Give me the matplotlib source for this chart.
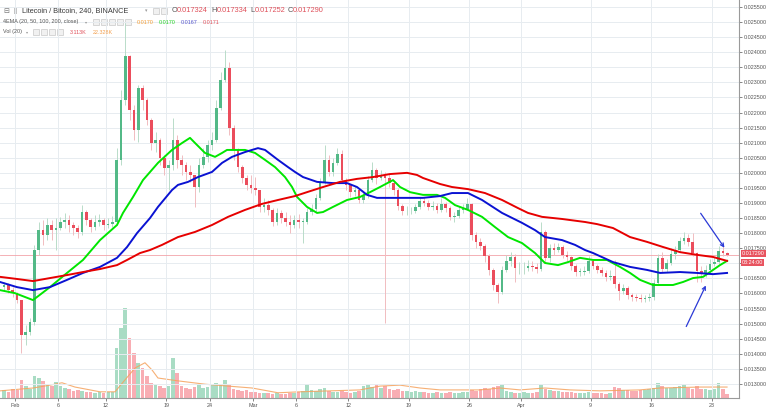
import matplotlib.pyplot as plt
import matplotlib.transforms as mtransforms
from matplotlib.patches import Rectangle
import numpy as np

W, H = 768, 409

# LTC/BTC candles, aggregated to 12h, day 0 = Feb 1 2018. Prices in mBTC.
first_day = -0.74
step = 0.5
first_open = 16.21

close_mbtc = [
    16.28, 16.11, 16.01, 15.78, 14.62, 14.72, 15.05, 17.44, 18.10, 17.94,
    18.27, 18.10, 18.17, 18.37, 18.44, 18.27, 18.17, 18.04, 18.70, 18.44,
    18.20, 18.37, 18.44, 18.27, 18.30, 18.37, 20.43, 22.42, 23.88, 22.08,
    21.42, 22.81, 22.42, 21.75, 20.99, 21.09, 20.49, 20.16, 20.26, 21.09,
    20.43, 20.26, 20.03, 19.93, 19.53, 20.26, 20.53, 20.92, 21.09, 22.15,
    23.08, 23.48, 21.49, 20.76, 20.19, 19.83, 19.60, 19.50, 19.43, 18.87,
    18.93, 18.77, 18.37, 18.67, 18.50, 18.37, 18.27, 18.44, 18.37, 18.37,
    18.70, 18.80, 19.17, 19.70, 20.43, 20.03, 20.33, 20.63, 19.76, 19.60,
    19.36, 19.43, 19.10, 19.23, 19.76, 20.09, 19.83, 19.90, 19.83, 19.66,
    19.43, 18.90, 18.73, 18.73, 18.73, 18.87, 19.07, 19.00, 18.87, 18.90,
    18.77, 18.97, 18.83, 18.54, 18.57, 18.77, 18.80, 18.97, 17.94, 17.71,
    17.57, 17.24, 16.78, 16.28, 16.05, 16.78, 17.08, 17.21, 16.84, 16.84,
    16.84, 16.91, 16.88, 16.81, 18.04, 17.18, 17.51, 17.44, 17.54, 17.28,
    17.21, 16.91, 16.71, 16.71, 16.74, 17.08, 16.91, 16.78, 16.68, 16.55,
    16.58, 16.31, 16.08, 16.18, 15.95, 15.88, 15.85, 15.82, 15.85, 15.88,
    16.35, 17.18, 16.81, 17.01, 17.31, 17.44, 17.74, 17.84, 17.71, 17.34,
    16.74, 16.64, 16.78, 16.98, 17.04, 17.41, 17.34, 17.29,
]
high_mbtc = [
    16.38, 16.35, 16.21, 16.05, 15.78, 14.95, 15.19, 17.61, 18.37, 18.44,
    18.50, 18.44, 18.50, 18.54, 18.67, 18.60, 18.37, 18.27, 18.93, 18.77,
    18.50, 18.60, 18.64, 18.50, 18.50, 18.57, 20.82, 22.75, 24.97, 23.91,
    22.25, 22.91, 22.91, 22.48, 21.82, 21.36, 21.16, 20.59, 20.43, 21.82,
    21.26, 20.59, 20.36, 20.26, 19.93, 20.49, 20.82, 21.09, 21.36, 22.42,
    23.35, 24.08, 23.68, 21.59, 20.82, 20.26, 19.93, 19.93, 19.86, 19.43,
    19.17, 19.10, 18.83, 18.83, 18.77, 18.70, 18.60, 18.60, 18.64, 18.50,
    18.83, 18.97, 19.30, 19.83, 20.92, 20.59, 20.49, 20.82, 20.76, 19.83,
    19.63, 19.56, 19.43, 19.36, 19.90, 20.36, 20.16, 20.09, 20.03, 19.96,
    19.70, 19.50, 18.97, 18.90, 18.87, 18.97, 19.20, 19.20, 19.10, 19.07,
    19.00, 19.17, 19.03, 18.90, 18.70, 18.90, 18.97, 19.17, 19.00, 18.04,
    17.84, 17.64, 17.31, 16.84, 16.35, 16.91, 17.28, 17.37, 17.31, 17.04,
    17.04, 17.11, 17.08, 17.01, 18.37, 18.10, 17.64, 17.67, 17.67, 17.61,
    17.41, 17.24, 16.98, 16.84, 16.91, 17.24, 17.14, 16.98, 16.88, 16.78,
    16.78, 17.11, 16.38, 16.31, 16.25, 16.01, 15.98, 15.98, 15.95, 16.01,
    16.48, 17.31, 17.37, 17.14, 17.51, 17.57, 17.87, 18.04, 17.97, 18.00,
    17.37, 16.91, 16.94, 17.14, 17.21, 17.57, 17.57, 17.37,
]
low_mbtc = [
    16.11, 16.01, 15.88, 15.68, 14.02, 14.29, 14.62, 14.95, 17.28, 17.61,
    17.77, 17.77, 17.44, 18.10, 18.17, 18.04, 17.94, 17.84, 17.94, 18.27,
    18.04, 18.10, 18.24, 18.10, 18.17, 18.20, 18.27, 20.26, 22.25, 21.75,
    21.09, 21.02, 22.08, 21.59, 20.76, 20.69, 20.26, 19.93, 19.43, 20.09,
    20.16, 19.93, 19.76, 19.70, 18.87, 19.36, 20.16, 20.36, 20.76, 21.02,
    22.08, 23.01, 21.26, 20.43, 20.03, 19.66, 19.43, 19.33, 19.27, 18.70,
    18.70, 18.60, 18.24, 18.27, 18.34, 18.24, 18.00, 18.17, 18.17, 17.67,
    18.30, 18.60, 18.70, 19.10, 19.63, 19.90, 19.90, 20.26, 19.66, 19.43,
    19.20, 19.23, 19.00, 19.00, 19.17, 19.70, 19.63, 19.76, 15.02, 19.53,
    19.27, 18.77, 18.60, 18.60, 18.64, 18.67, 18.80, 18.90, 18.77, 18.77,
    18.67, 18.70, 18.70, 18.44, 18.37, 18.50, 18.67, 18.77, 17.77, 17.51,
    17.44, 17.04, 16.61, 16.11, 15.68, 15.98, 16.71, 16.91, 16.38, 16.64,
    16.64, 16.74, 16.74, 16.68, 16.74, 17.04, 17.04, 17.28, 17.37, 17.18,
    17.08, 16.78, 16.58, 16.58, 16.61, 16.68, 16.81, 16.68, 16.58, 16.41,
    16.45, 16.18, 15.78, 15.98, 15.82, 15.75, 15.75, 15.72, 15.72, 15.75,
    15.78, 16.28, 16.71, 16.71, 16.94, 17.14, 17.37, 17.64, 17.57, 17.24,
    16.38, 16.38, 16.55, 16.81, 16.91, 16.98, 17.24, 17.24,
]
volume_k = [
    17, 13, 19, 17, 38, 25, 19, 46, 42, 36,
    27, 25, 34, 25, 21, 19, 15, 17, 15, 13,
    13, 11, 13, 11, 13, 13, 105, 147, 189, 126,
    95, 74, 63, 46, 32, 27, 25, 21, 25, 84,
    53, 25, 21, 19, 23, 27, 21, 23, 27, 32,
    29, 38, 27, 19, 17, 15, 17, 13, 13, 11,
    11, 11, 8, 11, 8, 8, 11, 11, 13, 15,
    29, 17, 15, 19, 21, 15, 13, 13, 15, 13,
    11, 13, 15, 25, 27, 23, 27, 21, 25, 19,
    17, 19, 15, 15, 13, 15, 13, 13, 11, 11,
    13, 11, 11, 13, 11, 11, 13, 13, 17, 15,
    19, 21, 19, 23, 25, 27, 15, 13, 11, 11,
    13, 11, 11, 13, 27, 19, 17, 15, 15, 13,
    13, 13, 11, 11, 11, 13, 11, 11, 11, 8,
    11, 23, 21, 17, 17, 15, 15, 17, 17, 19,
    21, 32, 25, 21, 21, 23, 25, 27, 21, 19,
    25, 19, 19, 17, 19, 32, 19, 8,
]

# volume moving average (orange), read at points
vol_ma_days = [-1.21, 2.60, 4.56, 5.95, 7.45, 10.34, 12.07, 13.22, 14.38, 15.53,
               16.34, 17.03, 19.34, 22.46, 25.12, 27.89, 30.89, 33.43, 36.90, 40.36,
               42.67, 44.98, 47.29, 49.60, 54.22, 56.53, 58.84, 61.72, 64.61, 68.07,
               72.69, 75.00, 79.62, 82.74]
vol_ma_k = [15, 21, 27, 32, 23, 13, 13, 38, 63, 74,
            59, 42, 36, 29, 25, 21, 11, 13, 15, 17,
            25, 27, 21, 17, 17, 21, 17, 21, 17, 15,
            17, 21, 23, 23]

# EMA 50 (green)
ema50_days = [-1.21, 0.52, 2.60, 4.56, 6.53, 8.37, 10.34, 12.30, 12.99, 14.15,
              15.30, 17.03, 18.65, 19.81, 20.73, 21.31, 22.46, 23.62, 24.43, 25.00,
              27.08, 28.24, 29.39, 30.55, 31.70, 32.51, 33.09, 34.24, 35.40, 36.09,
              37.24, 38.86, 40.36, 41.52, 42.67, 44.17, 44.98, 46.13, 47.63, 49.25,
              50.18, 51.33, 52.83, 54.45, 55.95, 57.45, 59.07, 60.57, 61.72, 63.22,
              64.38, 65.76, 67.27, 68.88, 70.38, 71.54, 72.69, 74.19, 76.50, 77.66,
              78.81, 79.97, 81.12, 81.93, 82.74]
ema50 = [16.11, 16.01, 15.78, 16.21, 16.68, 17.11, 17.77, 18.27, 18.67, 19.20,
         19.76, 20.33, 20.76, 20.99, 21.16, 20.99, 20.66, 20.53, 20.66, 20.76,
         20.76, 20.66, 20.43, 20.19, 19.86, 19.53, 19.20, 18.87, 18.67, 18.70,
         18.87, 19.10, 19.20, 19.36, 19.53, 19.76, 19.53, 19.36, 19.27, 19.27,
         19.17, 18.93, 18.77, 18.54, 18.20, 17.87, 17.67, 17.34, 17.01, 16.94,
         17.04, 17.18, 17.11, 17.11, 16.88, 16.68, 16.45, 16.28, 16.28, 16.38,
         16.51, 16.55, 16.78, 16.94, 17.08]

# EMA 100 (blue)
ema100_days = [-1.21, 0.75, 2.60, 4.56, 6.53, 8.37, 10.34, 12.30, 13.46, 14.61,
               16.11, 17.03, 18.65, 19.34, 20.50, 21.65, 23.27, 24.43, 25.58, 27.08,
               28.58, 29.39, 30.89, 32.05, 32.85, 33.78, 35.40, 37.24, 38.86, 40.01,
               41.17, 42.32, 45.79, 47.63, 49.60, 50.98, 52.83, 54.45, 56.76, 59.07,
               60.57, 61.72, 63.69, 65.19, 66.34, 67.27, 69.57, 71.54, 73.50, 75.00,
               77.31, 79.27, 81.12, 82.74]
ema100 = [16.38, 16.21, 16.11, 16.21, 16.45, 16.68, 16.88, 17.18, 17.54, 18.00,
          18.50, 18.87, 19.43, 19.60, 19.70, 19.86, 20.03, 20.33, 20.53, 20.69,
          20.82, 20.76, 20.43, 20.19, 20.03, 19.86, 19.70, 19.66, 19.66, 19.53,
          19.27, 19.17, 19.17, 19.17, 19.23, 19.33, 19.33, 19.10, 18.67, 18.34,
          18.10, 17.87, 17.77, 17.61, 17.44, 17.34, 17.04, 16.88, 16.78, 16.68,
          16.71, 16.68, 16.64, 16.68]

# EMA 200 (red)
ema200_days = [-1.21, 0.75, 2.60, 4.56, 6.53, 8.37, 10.34, 12.30, 13.46, 14.96,
               16.11, 17.50, 19.34, 21.31, 23.27, 25.12, 27.08, 29.04, 30.89, 32.85,
               34.24, 36.09, 38.05, 40.01, 41.86, 43.82, 45.79, 46.94, 47.63, 49.60,
               50.98, 52.83, 54.79, 56.76, 58.61, 59.76, 61.38, 63.69, 66.34, 67.73,
               69.57, 71.54, 73.50, 75.35, 77.31, 79.27, 81.12, 82.74]
ema200 = [16.55, 16.48, 16.41, 16.51, 16.61, 16.71, 16.81, 16.94, 17.11, 17.34,
          17.44, 17.61, 17.87, 18.04, 18.27, 18.54, 18.77, 18.97, 19.10, 19.23,
          19.36, 19.53, 19.70, 19.80, 19.86, 19.96, 20.00, 19.93, 19.83, 19.63,
          19.53, 19.46, 19.33, 19.10, 18.83, 18.67, 18.54, 18.47, 18.37, 18.30,
          18.17, 17.87, 17.71, 17.54, 17.37, 17.28, 17.21, 17.08]

tick_days = [0.5, 5.5, 11, 18, 23, 28, 33, 39, 46, 53, 59, 67, 74, 81]
tick_labels = ['Feb', '6', '12', '19', '24', 'Mar', '6', '12', '19', '26',
               'Apr', '9', '16', '23']

last_price = 0.017290
countdown = '03:24:00'

UP, DOWN = '#53b987', '#eb4d5c'
UP_WICK, DOWN_WICK = '#b9dcc9', '#f1bcc0'
VOL_UP, VOL_DOWN = '#a9dcc4', '#f8adb3'

plt.rcParams['font.family'] = ['Liberation Sans', 'DejaVu Sans']

fig = plt.figure(figsize=(W / 100, H / 100), dpi=100)
fig.patch.set_facecolor('white')
ax = fig.add_axes([0, 11 / H, 739 / W, 398 / H])
vax = ax.twinx()
ax.set_zorder(2)
vax.set_zorder(1)
ax.patch.set_visible(False)

close = np.array(close_mbtc) / 1000
high = np.array(high_mbtc) / 1000
low = np.array(low_mbtc) / 1000
opens = np.r_[first_open / 1000, close[:-1]]
days = first_day + step * np.arange(len(close))
up = close >= opens
high = np.maximum(high, np.maximum(opens, close))
low = np.minimum(low, np.minimum(opens, close))

# volume (bottom pane, about 2.1K per pixel)
vax.bar(days, volume_k, width=0.42, color=np.where(up, VOL_UP, VOL_DOWN), linewidth=0)
vax.plot(vol_ma_days, vol_ma_k, color='#f5a25d', lw=0.8, alpha=0.85)
vax.set_ylim(0, 836)
vax.set_yticks([])
for s in vax.spines.values():
    s.set_visible(False)

# candles
ax.vlines(days, low, high, colors=np.where(up, UP_WICK, DOWN_WICK), lw=0.7, zorder=2)
body_lo = np.minimum(opens, close)
body_h = np.maximum(np.abs(close - opens), 0.00002)
ax.bar(days, body_h, bottom=body_lo, width=0.3, color=np.where(up, UP, DOWN),
       linewidth=0, zorder=3)

# EMAs
ax.plot(ema50_days, np.array(ema50) / 1000, color='#00e600', lw=1.4, zorder=4)
ax.plot(ema100_days, np.array(ema100) / 1000, color='#0a12d2', lw=1.4, zorder=4)
ax.plot(ema200_days, np.array(ema200) / 1000, color='#e60000', lw=1.4, zorder=4)

# last price line + labels
ax.axhline(last_price, color='#f2a3a9', lw=0.6, zorder=1)
tr = mtransforms.blended_transform_factory(ax.transAxes, ax.transData)
ax.text(1.004, last_price + 0.00004, f'{last_price:.6f}', transform=tr, fontsize=3.9,
        color='white', va='center', ha='left', clip_on=False,
        bbox=dict(boxstyle='square,pad=0.2', fc='#e8535f', ec='none'))
ax.text(1.004, last_price - 0.00026, countdown, transform=tr, fontsize=3.9,
        color='white', va='center', ha='left', clip_on=False,
        bbox=dict(boxstyle='square,pad=0.2', fc='#e8535f', ec='none'))

# hand-drawn arrows
ax.annotate('', xy=(82.62, 0.017441), xytext=(79.51, 0.018735),
            arrowprops=dict(arrowstyle='->', color='#2b39d6', lw=0.9, mutation_scale=6))
ax.annotate('', xy=(80.43, 0.016347), xytext=(77.89, 0.01482),
            arrowprops=dict(arrowstyle='->', color='#2b39d6', lw=0.9, mutation_scale=6))

ax.set_xlim(-1.21, 84.12)
ax.set_ylim(0.012532, 0.025733)
ax.yaxis.tick_right()
yt = np.arange(0.013, 0.02551, 0.0005)
ax.set_yticks(yt)
# the 0.017000 label sits under the price / countdown boxes
ax.set_yticklabels(['' if abs(v - 0.017) < 1e-7 else f'{v:.6f}' for v in yt])
ax.set_xticks(tick_days)
ax.set_xticklabels(tick_labels)
ax.tick_params(axis='both', labelsize=3.9, colors='#555555', length=2, width=0.5, pad=1.5)
ax.grid(True, color='#e7ecf0', lw=0.7)
ax.set_axisbelow(True)
for side in ['left', 'top']:
    ax.spines[side].set_visible(False)
for side in ['right', 'bottom']:
    ax.spines[side].set_color('#9a9a9a')
    ax.spines[side].set_linewidth(0.8)


# header legend (pixel positions)
def px(x, y):
    return x / W, 1 - y / H


def icon(x, y, w=6, h=6):
    fx, fy = px(x, y + h)
    fig.patches.append(Rectangle((fx, fy), w / W, h / H, transform=fig.transFigure,
                                 fc='#f1f1f1', ec='#c9c9c9', lw=0.5))


fig.text(*px(3, 11), '⊟', fontsize=5, color='#777777', va='center', family='DejaVu Sans')
fig.patches.append(Rectangle(px(14, 14), 3 / W, 6 / H, transform=fig.transFigure,
                             fc='#c4c4c4', ec='none'))
fig.text(*px(22, 11), 'Litecoin / Bitcoin, 240, BINANCE', fontsize=5.3, color='#3a3a3a', va='center')
fig.text(*px(145, 11), '▾', fontsize=3.5, color='#999999', va='center', family='DejaVu Sans')
icon(153, 8)
icon(161, 8)
for x, lab, xv, val in [(172, 'O', 177, '0.017324'), (211, 'H', 217, '0.017334'),
                        (250, 'L', 255, '0.017252'), (288, 'C', 293, '0.017290')]:
    fig.text(*px(x, 11), lab, fontsize=5.3, color='#555555', va='center')
    fig.text(*px(xv, 11), val, fontsize=5.3, color='#e0505a', va='center')

fig.text(*px(3, 22), '4EMA (20, 50, 100, 200, close)', fontsize=3.9, color='#555555', va='center')
fig.text(*px(85, 22), '▾', fontsize=3, color='#999999', va='center', family='DejaVu Sans')
for x in [93, 101, 109, 117, 125]:
    icon(x, 19.5, 5.5, 5.5)
for x, val, col in [(137, '0.0170', '#f39c33'), (159, '0.0170', '#22d022'),
                    (181, '0.0167', '#5555cc'), (203, '0.0171', '#e0505a')]:
    fig.text(*px(x, 22), val, fontsize=3.9, color=col, va='center')

fig.text(*px(3, 32), 'Vol (20)', fontsize=3.9, color='#555555', va='center')
fig.text(*px(26, 32), '▾', fontsize=3, color='#999999', va='center', family='DejaVu Sans')
for x in [33, 41, 49, 57]:
    icon(x, 29.5, 5.5, 5.5)
fig.text(*px(70, 32), '3.113K', fontsize=3.9, color='#e0505a', va='center')
fig.text(*px(93, 32), '22.328K', fontsize=3.9, color='#f3a04f', va='center')

fig.savefig('out.png', dpi=100)
